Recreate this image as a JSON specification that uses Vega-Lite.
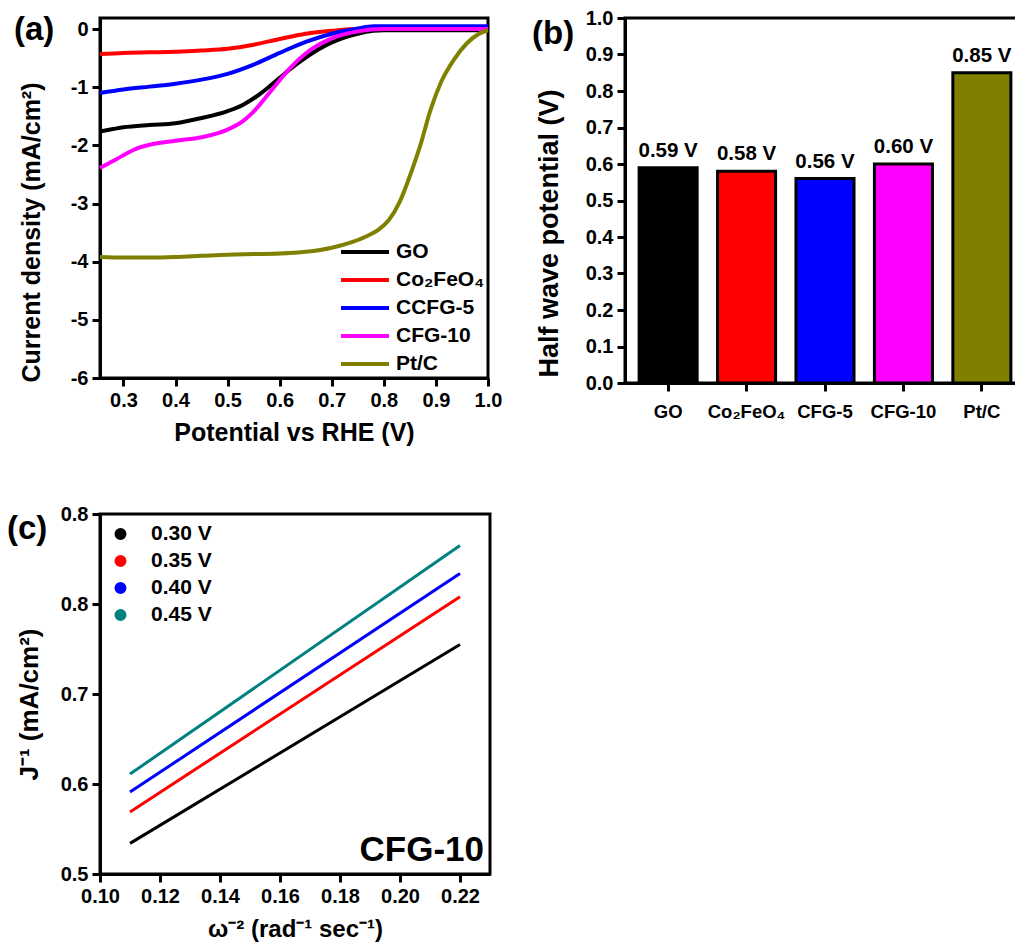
{
  "$schema": "https://vega.github.io/schema/vega-lite/v6.json",
  "padding": {"left": 5, "top": 6, "right": 0, "bottom": 0},
  "background": "white",
  "config": {
    "font": "Liberation Sans",
    "view": {"stroke": "black", "strokeWidth": 3},
    "axis": {
      "grid": false,
      "labelFontSize": 20,
      "labelFontWeight": "bold",
      "labelColor": "black",
      "labelFlush": false,
      "titleFontSize": 25,
      "titleFontWeight": "bold",
      "titleColor": "black",
      "domainColor": "black",
      "domainWidth": 3,
      "tickColor": "black",
      "tickWidth": 3,
      "tickSize": 8,
      "labelPadding": 4
    },
    "legend": {
      "labelFontSize": 21,
      "labelFontWeight": "bold",
      "labelColor": "black",
      "title": null
    },
    "title": {"fontSize": 33, "fontWeight": "bold", "color": "black", "anchor": "start", "frame": "group", "offset": 0, "baseline": "alphabetic"}
  },
  "columns": 2,
  "align": "each",
  "spacing": {"row": 55, "column": 26},
  "resolve": {
    "scale": {"color": "independent", "x": "independent", "y": "independent"},
    "legend": {"color": "independent"}
  },
  "concat": [
    {
      "width": 388,
      "height": 360,
      "title": {"text": "(a)", "dx": -86, "dy": 33},
      "data": {"values": [
        {"sample": "GO", "V": 0.255, "J": -1.76},
        {"sample": "GO", "V": 0.28, "J": -1.72},
        {"sample": "GO", "V": 0.30, "J": -1.69},
        {"sample": "GO", "V": 0.35, "J": -1.65},
        {"sample": "GO", "V": 0.40, "J": -1.62},
        {"sample": "GO", "V": 0.45, "J": -1.53},
        {"sample": "GO", "V": 0.50, "J": -1.41},
        {"sample": "GO", "V": 0.53, "J": -1.30},
        {"sample": "GO", "V": 0.56, "J": -1.13},
        {"sample": "GO", "V": 0.58, "J": -0.99},
        {"sample": "GO", "V": 0.60, "J": -0.84},
        {"sample": "GO", "V": 0.62, "J": -0.69},
        {"sample": "GO", "V": 0.65, "J": -0.49},
        {"sample": "GO", "V": 0.70, "J": -0.23},
        {"sample": "GO", "V": 0.75, "J": -0.08},
        {"sample": "GO", "V": 0.78, "J": -0.03},
        {"sample": "GO", "V": 0.80, "J": -0.02},
        {"sample": "GO", "V": 0.90, "J": -0.02},
        {"sample": "GO", "V": 1.00, "J": -0.02},
        {"sample": "Co₂FeO₄", "V": 0.255, "J": -0.43},
        {"sample": "Co₂FeO₄", "V": 0.30, "J": -0.41},
        {"sample": "Co₂FeO₄", "V": 0.35, "J": -0.40},
        {"sample": "Co₂FeO₄", "V": 0.40, "J": -0.39},
        {"sample": "Co₂FeO₄", "V": 0.45, "J": -0.37},
        {"sample": "Co₂FeO₄", "V": 0.50, "J": -0.34},
        {"sample": "Co₂FeO₄", "V": 0.55, "J": -0.27},
        {"sample": "Co₂FeO₄", "V": 0.60, "J": -0.17},
        {"sample": "Co₂FeO₄", "V": 0.65, "J": -0.08},
        {"sample": "Co₂FeO₄", "V": 0.70, "J": -0.03},
        {"sample": "Co₂FeO₄", "V": 0.75, "J": 0.0},
        {"sample": "Co₂FeO₄", "V": 0.85, "J": 0.0},
        {"sample": "Co₂FeO₄", "V": 1.00, "J": 0.0},
        {"sample": "CCFG-5", "V": 0.255, "J": -1.10},
        {"sample": "CCFG-5", "V": 0.30, "J": -1.04},
        {"sample": "CCFG-5", "V": 0.35, "J": -0.99},
        {"sample": "CCFG-5", "V": 0.40, "J": -0.94},
        {"sample": "CCFG-5", "V": 0.45, "J": -0.87},
        {"sample": "CCFG-5", "V": 0.50, "J": -0.77},
        {"sample": "CCFG-5", "V": 0.55, "J": -0.61},
        {"sample": "CCFG-5", "V": 0.60, "J": -0.41},
        {"sample": "CCFG-5", "V": 0.65, "J": -0.22},
        {"sample": "CCFG-5", "V": 0.70, "J": -0.08},
        {"sample": "CCFG-5", "V": 0.75, "J": 0.01},
        {"sample": "CCFG-5", "V": 0.78, "J": 0.05},
        {"sample": "CCFG-5", "V": 0.90, "J": 0.05},
        {"sample": "CCFG-5", "V": 1.00, "J": 0.05},
        {"sample": "CFG-10", "V": 0.255, "J": -2.39},
        {"sample": "CFG-10", "V": 0.28, "J": -2.27},
        {"sample": "CFG-10", "V": 0.30, "J": -2.17},
        {"sample": "CFG-10", "V": 0.33, "J": -2.04},
        {"sample": "CFG-10", "V": 0.35, "J": -1.99},
        {"sample": "CFG-10", "V": 0.40, "J": -1.92},
        {"sample": "CFG-10", "V": 0.45, "J": -1.86},
        {"sample": "CFG-10", "V": 0.50, "J": -1.73},
        {"sample": "CFG-10", "V": 0.53, "J": -1.58},
        {"sample": "CFG-10", "V": 0.55, "J": -1.42},
        {"sample": "CFG-10", "V": 0.58, "J": -1.10},
        {"sample": "CFG-10", "V": 0.60, "J": -0.88},
        {"sample": "CFG-10", "V": 0.62, "J": -0.67},
        {"sample": "CFG-10", "V": 0.65, "J": -0.42},
        {"sample": "CFG-10", "V": 0.70, "J": -0.16},
        {"sample": "CFG-10", "V": 0.75, "J": -0.04},
        {"sample": "CFG-10", "V": 0.80, "J": 0.0},
        {"sample": "CFG-10", "V": 0.90, "J": 0.0},
        {"sample": "CFG-10", "V": 1.00, "J": 0.0},
        {"sample": "Pt/C", "V": 0.255, "J": -3.92},
        {"sample": "Pt/C", "V": 0.30, "J": -3.93},
        {"sample": "Pt/C", "V": 0.35, "J": -3.93},
        {"sample": "Pt/C", "V": 0.40, "J": -3.92},
        {"sample": "Pt/C", "V": 0.45, "J": -3.90},
        {"sample": "Pt/C", "V": 0.50, "J": -3.88},
        {"sample": "Pt/C", "V": 0.55, "J": -3.87},
        {"sample": "Pt/C", "V": 0.60, "J": -3.86},
        {"sample": "Pt/C", "V": 0.65, "J": -3.83},
        {"sample": "Pt/C", "V": 0.70, "J": -3.76},
        {"sample": "Pt/C", "V": 0.74, "J": -3.66},
        {"sample": "Pt/C", "V": 0.77, "J": -3.55},
        {"sample": "Pt/C", "V": 0.79, "J": -3.45},
        {"sample": "Pt/C", "V": 0.81, "J": -3.28},
        {"sample": "Pt/C", "V": 0.83, "J": -2.98},
        {"sample": "Pt/C", "V": 0.855, "J": -2.40},
        {"sample": "Pt/C", "V": 0.87, "J": -2.00},
        {"sample": "Pt/C", "V": 0.89, "J": -1.38},
        {"sample": "Pt/C", "V": 0.91, "J": -0.91},
        {"sample": "Pt/C", "V": 0.935, "J": -0.52},
        {"sample": "Pt/C", "V": 0.96, "J": -0.24},
        {"sample": "Pt/C", "V": 0.985, "J": -0.07},
        {"sample": "Pt/C", "V": 1.00, "J": -0.02}
      ]},
      "mark": {"type": "line", "strokeWidth": 4, "interpolate": "monotone"},
      "encoding": {
        "x": {"field": "V", "type": "quantitative", "scale": {"domain": [0.255, 1.0], "nice": false, "zero": false},
              "axis": {"values": [0.3, 0.4, 0.5, 0.6, 0.7, 0.8, 0.9, 1.0], "format": ".1f", "title": "Potential vs RHE (V)", "titlePadding": 10, "labelPadding": 4}},
        "y": {"field": "J", "type": "quantitative", "scale": {"domain": [-6, 0.19], "nice": false, "zero": false},
              "axis": {"values": [-6, -5, -4, -3, -2, -1, 0], "labelExpr": "'' + datum.value", "title": "Current density (mA/cm²)", "titleFontSize": 25, "titlePadding": 26, "titleY": 214}},
        "color": {"field": "sample", "type": "nominal",
                  "scale": {"domain": ["GO", "Co₂FeO₄", "CCFG-5", "CFG-10", "Pt/C"], "range": ["#000000", "#ff0000", "#0000ff", "#ff00ff", "#808000"]},
                  "legend": {"orient": "bottom-right", "offset": 3, "padding": 0, "symbolType": "stroke", "symbolSize": 2304, "symbolStrokeWidth": 4, "clipHeight": 22, "rowPadding": 6, "labelOffset": 5}}
      }
    },
    {
      "width": 400,
      "height": 365,
      "title": {"text": "(b)", "dx": -93, "dy": 47},
      "data": {"values": [
        {"sample": "GO", "E": 0.59, "label": "0.59 V"},
        {"sample": "Co₂FeO₄", "E": 0.58, "label": "0.58 V"},
        {"sample": "CFG-5", "E": 0.56, "label": "0.56 V"},
        {"sample": "CFG-10", "E": 0.60, "label": "0.60 V"},
        {"sample": "Pt/C", "E": 0.85, "label": "0.85 V"}
      ]},
      "encoding": {
        "x": {"field": "sample", "type": "nominal", "sort": null,
              "scale": {"paddingInner": 0.26, "paddingOuter": 0.18},
              "axis": {"title": null, "labelAngle": 0, "labelFontSize": 18.5, "labelPadding": 11}},
        "y": {"field": "E", "type": "quantitative", "scale": {"domain": [0, 1], "nice": false},
              "axis": {"values": [0, 0.1, 0.2, 0.3, 0.4, 0.5, 0.6, 0.7, 0.8, 0.9, 1.0], "format": ".1f", "title": "Half wave potential (V)", "titleFontSize": 27, "titlePadding": 22, "titleY": 215}}
      },
      "layer": [
        {"mark": {"type": "bar", "stroke": "black", "strokeWidth": 3},
         "encoding": {"color": {"field": "sample", "type": "nominal", "sort": null, "legend": null,
                                "scale": {"domain": ["GO", "Co₂FeO₄", "CFG-5", "CFG-10", "Pt/C"], "range": ["#000000", "#ff0000", "#0000ff", "#ff00ff", "#7f7f00"]}}}},
        {"mark": {"type": "text", "baseline": "bottom", "dy": -7, "fontSize": 20.5, "fontWeight": "bold", "color": "black"},
         "encoding": {"text": {"field": "label"}}}
      ]
    },
    {
      "width": 390,
      "height": 360,
      "title": {"text": "(c)", "dx": -93, "dy": 46},
      "data": {"values": [
        {"E": "0.30 V", "w": 0.11, "Jinv": 0.534},
        {"E": "0.30 V", "w": 0.22, "Jinv": 0.755},
        {"E": "0.35 V", "w": 0.11, "Jinv": 0.569},
        {"E": "0.35 V", "w": 0.22, "Jinv": 0.808},
        {"E": "0.40 V", "w": 0.11, "Jinv": 0.591},
        {"E": "0.40 V", "w": 0.22, "Jinv": 0.834},
        {"E": "0.45 V", "w": 0.11, "Jinv": 0.611},
        {"E": "0.45 V", "w": 0.22, "Jinv": 0.865}
      ]},
      "encoding": {
        "x": {"field": "w", "type": "quantitative", "scale": {"domain": [0.10, 0.23], "nice": false, "zero": false},
              "axis": {"values": [0.10, 0.12, 0.14, 0.16, 0.18, 0.20, 0.22], "format": ".2f", "title": "ω⁻² (rad⁻¹ sec⁻¹)", "titleFontSize": 24, "titlePadding": 11}},
        "y": {"field": "Jinv", "type": "quantitative", "scale": {"domain": [0.5, 0.9], "nice": false, "zero": false},
              "axis": {"values": [0.5, 0.6, 0.7, 0.8, 0.9], "labelExpr": "datum.value > 0.85 ? '0.8' : format(datum.value, '.1f')", "title": "J⁻¹ (mA/cm²)", "titleFontSize": 26, "titlePadding": 18, "titleY": 190}}
      },
      "layer": [
        {"mark": {"type": "line", "strokeWidth": 3},
         "encoding": {"color": {"field": "E", "type": "nominal",
                                "scale": {"domain": ["0.30 V", "0.35 V", "0.40 V", "0.45 V"], "range": ["#000000", "#ff0000", "#0000ff", "#008080"]},
                                "legend": {"orient": "top-left", "offset": 10, "padding": 0, "symbolType": "circle", "symbolSize": 36, "symbolStrokeWidth": 6, "clipHeight": 20, "rowPadding": 6, "labelOffset": 20}}}},
        {"transform": [{"filter": "datum.E == '0.30 V' && datum.w < 0.15"}],
         "mark": {"type": "text", "align": "right", "baseline": "alphabetic", "fontSize": 35, "fontWeight": "bold", "color": "black", "text": "CFG-10"},
         "encoding": {"x": {"datum": 0.228}, "y": {"datum": 0.514}}}
      ]
    }
  ]
}
